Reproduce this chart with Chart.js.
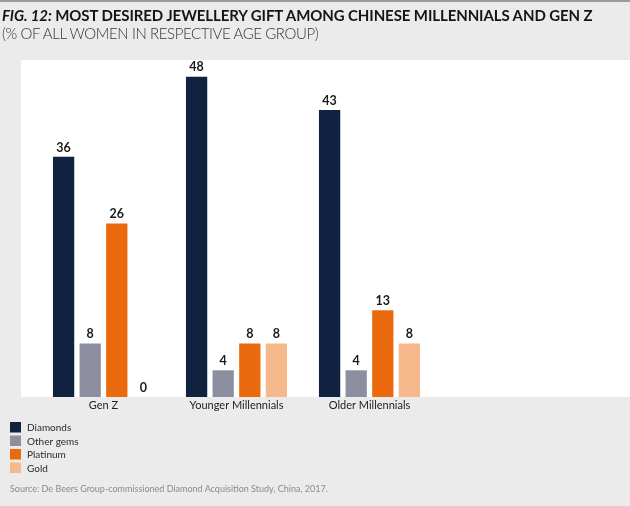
<!DOCTYPE html>
<html>
<head>
<meta charset="utf-8">
<script src="https://cdn.jsdelivr.net/npm/chart.js@4"></script>
<style>
  html, body { margin: 0; padding: 0; background: #ebebeb; }
  #wrap { position: relative; width: 630px; height: 506px; overflow: hidden; }
  #topline { position: absolute; left: 0; top: 0; width: 630px; height: 2px; background: #9a9a9a; }
  #title { position: absolute; left: 2px; top: 6px; font-family: Lato, sans-serif; font-weight: 700; font-size: 15px; color: #151515; white-space: nowrap; letter-spacing: -0.1px; }
  #title i { font-style: italic; }
  #subtitle { position: absolute; left: 2px; top: 24px; font-family: Lato, sans-serif; font-weight: 300; font-size: 15px; color: #333; white-space: nowrap; letter-spacing: -0.4px; }
  #source { position: absolute; left: 10px; top: 483px; font-family: Lato, sans-serif; font-size: 9px; color: #8a8a8a; white-space: nowrap; }
  canvas { position: absolute; left: 0; top: 0; }
</style>
</head>
<body>
<div id="wrap">
  <canvas id="mycanvas" width="630" height="506"></canvas>
  <div id="topline"></div>
  <div id="title"><i>FIG. 12:</i> MOST DESIRED JEWELLERY GIFT AMONG CHINESE MILLENNIALS AND GEN Z</div>
  <div id="subtitle">(% OF ALL WOMEN IN RESPECTIVE AGE GROUP)</div>
  <div id="source">Source: De Beers Group-commissioned Diamond Acquisition Study, China, 2017.</div>
</div>
<script>
var groups = ["Gen Z", "Younger Millennials", "Older Millennials"];
var seriesNames = ["Diamonds", "Other gems", "Platinum", "Gold"];
var diamonds = [36, 48, 43];
var otherGems = [8, 4, 4];
var platinum = [26, 8, 13];
var gold = [0, 8, 8];
var colours = ["#10223f", "#8d8fa1", "#ec6a0e", "#f6b98c"];

var seriesValues = [diamonds, otherGems, platinum, gold];
var datasets = [];
for (var i = 0; i < seriesNames.length; i++) {
  datasets.push({
    label: seriesNames[i],
    data: seriesValues[i],
    backgroundColor: colours[i],
    borderWidth: 0,
    categoryPercentage: 0.8,
    barPercentage: 0.8
  });
}

// white panel behind the bars, running out to the right edge
var panel = {
  id: "panel",
  beforeDraw: function(chart) {
    var ctx = chart.ctx, a = chart.chartArea;
    ctx.save();
    ctx.fillStyle = "#ffffff";
    ctx.fillRect(21, 60, chart.width - 21, a.bottom - 60);
    ctx.restore();
  }
};

// value labels above bars + legend down the bottom left
var extras = {
  id: "extras",
  afterDatasetsDraw: function(chart) {
    var ctx = chart.ctx;
    ctx.save();
    ctx.font = "bold 12.5px Lato, sans-serif";
    ctx.fillStyle = "#1a1a1a";
    ctx.textAlign = "center";
    ctx.textBaseline = "bottom";
    chart.data.datasets.forEach(function(ds, di) {
      chart.getDatasetMeta(di).data.forEach(function(bar, j) {
        ctx.fillText(ds.data[j], bar.x, bar.y - 3);
      });
    });
    ctx.restore();
  },
  afterDraw: function(chart) {
    var ctx = chart.ctx;
    ctx.save();
    ctx.font = "10px Lato, sans-serif";
    ctx.textBaseline = "middle";
    ctx.textAlign = "left";
    chart.data.datasets.forEach(function(ds, di) {
      var y = 422 + di * 13.5;
      ctx.fillStyle = ds.backgroundColor;
      ctx.fillRect(10, y, 11, 10.5);
      ctx.fillStyle = "#2a2a2a";
      ctx.fillText(ds.label, 27, y + 6);
    });
    ctx.restore();
  }
};

var ctx = document.getElementById("mycanvas");
var chart = new Chart(ctx, {
  type: "bar",
  data: { labels: groups, datasets: datasets },
  plugins: [panel, extras],
  options: {
    responsive: false,
    animation: false,
    layout: { padding: { left: 37, right: 194, top: 60, bottom: 89 } },
    plugins: { legend: { display: false }, tooltip: { enabled: false } },
    scales: {
      x: {
        grid: { display: false, drawTicks: false },
        border: { display: false },
        ticks: { color: "#222", font: { family: "Lato, sans-serif", size: 11 }, padding: 2 },
        afterFit: function(scale) { scale.height = 20; }
      },
      y: { display: false, min: 0, max: 50.5 }
    }
  }
});
</script>
</body>
</html>
